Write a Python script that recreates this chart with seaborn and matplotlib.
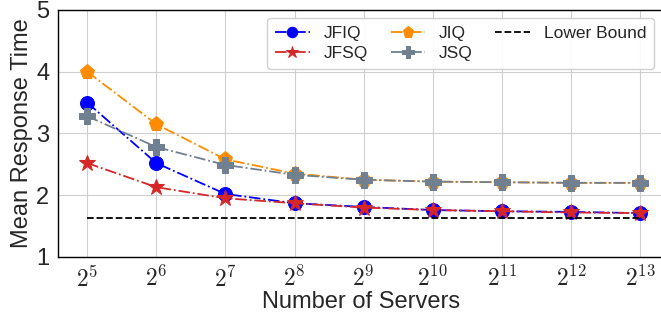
import numpy as np
import pandas as pd
import matplotlib
matplotlib.use('Agg')
import matplotlib.pyplot as plt
import seaborn as sns

# log2 of the number of servers
exponents = [5, 6, 7, 8, 9, 10, 11, 12, 13]
tick_labels = ['$2^{%d}$' % e for e in exponents]

jfiq = [3.50, 2.52, 2.02, 1.87, 1.81, 1.76, 1.74, 1.73, 1.71]
jfsq = [2.52, 2.13, 1.95, 1.87, 1.80, 1.76, 1.74, 1.72, 1.71]
jiq = [4.00, 3.15, 2.58, 2.35, 2.25, 2.22, 2.21, 2.20, 2.20]
jsq = [3.28, 2.78, 2.49, 2.33, 2.25, 2.22, 2.21, 2.20, 2.20]
lower_bound = [1.63] * len(exponents)

sns.set_style('whitegrid', {'axes.edgecolor': 'black', 'grid.color': '#cfcfcf'})
plt.rcParams['font.family'] = ['Liberation Sans', 'DejaVu Sans']
plt.rcParams['mathtext.fontset'] = 'cm'

fig = plt.figure(figsize=(6.61, 3.2), dpi=100)
ax = fig.add_axes([0.088, 0.197, 0.917, 0.772])

series = [
    ('JFIQ', jfiq, 'o', '#0000ff', 10),
    ('JFSQ', jfsq, '*', '#d62728', 12),
    ('JIQ', jiq, 'p', '#ff8c00', 11),
    ('JSQ', jsq, 'P', '#708090', 11),
]
for name, vals, mk, col, ms in series:
    sns.lineplot(x=exponents, y=vals, ax=ax, marker=mk, linestyle='-.',
                 color=col, markersize=ms, markeredgecolor=col,
                 linewidth=1.3, label=name)

sns.lineplot(x=exponents, y=lower_bound, ax=ax, color='black',
             linestyle='--', linewidth=1.3, label='Lower Bound')

ax.set_xlim(4.58, 13.35)
ax.set_ylim(1, 5)
ax.set_xticks(exponents)
ax.set_xticklabels(tick_labels)
ax.set_yticks([1, 2, 3, 4, 5])
ax.tick_params(axis='both', labelsize=17, length=3, color='black')
ax.set_xlabel('Number of Servers', fontsize=17, labelpad=0)
ax.set_ylabel('Mean Response Time', fontsize=17, labelpad=2)
for sp in ax.spines.values():
    sp.set_linewidth(1.0)

ax.legend(loc='upper left', bbox_to_anchor=(0.345, 0.968), borderaxespad=0,
          ncol=3, fontsize=12.5, markerscale=0.75, columnspacing=1.3,
          handlelength=2.0, handletextpad=0.8, labelspacing=0.3,
          borderpad=0.45, framealpha=0.9)

fig.savefig('out.png', dpi=100)
